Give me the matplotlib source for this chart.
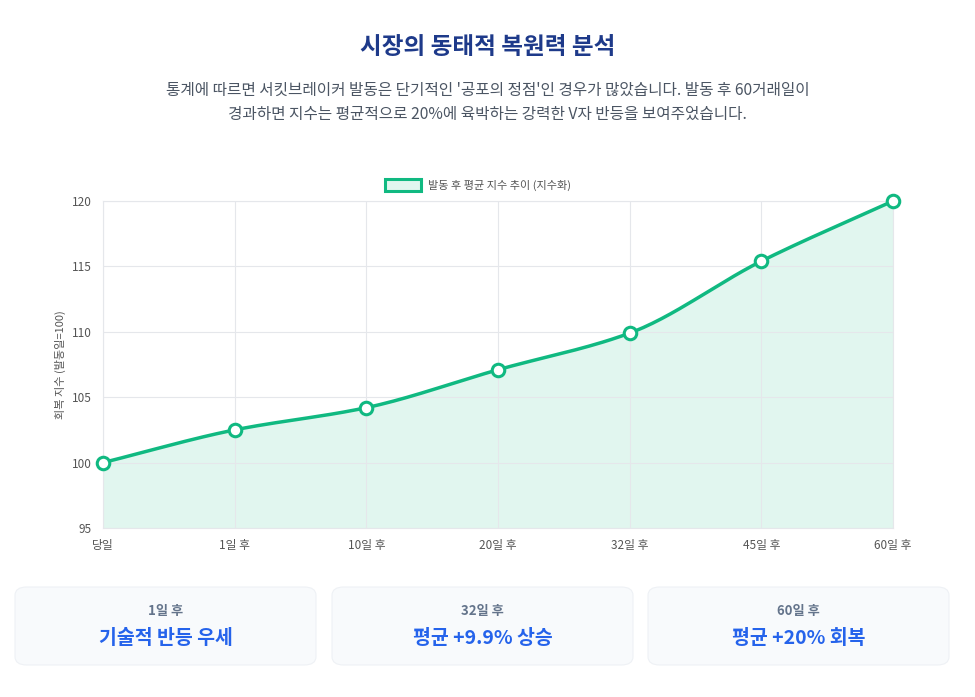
import numpy as np
import matplotlib
matplotlib.use("Agg")
import matplotlib.pyplot as plt
from matplotlib.patches import FancyBboxPatch, Rectangle

plt.rcParams['font.family'] = ['Noto Sans CJK KR', 'DejaVu Sans']

labels = ['당일', '1일 후', '10일 후', '20일 후', '32일 후', '45일 후', '60일 후']
values = [100, 102.5, 104.2, 107.1, 109.9, 115.4, 120]
card_titles = ['1일 후', '32일 후', '60일 후']
card_values = ['기술적 반등 우세', '평균 +9.9% 상승', '평균 +20% 회복']

green = '#10b981'


def monotone(x, y, n=30):
    # monotone cubic spline, similar to the smoothed line in the original
    x = np.asarray(x, float); y = np.asarray(y, float)
    h = np.diff(x); d = np.diff(y) / h
    m = np.zeros_like(y)
    m[0], m[-1] = d[0], d[-1]
    for i in range(1, len(y) - 1):
        if d[i - 1] * d[i] > 0:
            m[i] = 2 / (1 / d[i - 1] + 1 / d[i])
    xs, ys = [], []
    for i in range(len(h)):
        t = np.linspace(0, 1, n)
        h00 = 2*t**3 - 3*t**2 + 1; h10 = t**3 - 2*t**2 + t
        h01 = -2*t**3 + 3*t**2; h11 = t**3 - t**2
        xs.append(x[i] + t * h[i])
        ys.append(h00*y[i] + h10*h[i]*m[i] + h01*y[i+1] + h11*h[i]*m[i+1])
    return np.concatenate(xs), np.concatenate(ys)


fig = plt.figure(figsize=(9.75, 6.97), dpi=100)
fig.text(0.5, 1 - 47/697, '시장의 동태적 복원력 분석', ha='center', va='center',
         fontsize=17, fontweight='bold', color='#1e3a8a')
fig.text(0.5, 1 - 90/697, "통계에 따르면 서킷브레이커 발동은 단기적인 '공포의 정점'인 경우가 많았습니다. 발동 후 60거래일이",
         ha='center', va='center', fontsize=11.3, color='#4b5563')
fig.text(0.5, 1 - 114/697, '경과하면 지수는 평균적으로 20%에 육박하는 강력한 V자 반등을 보여주었습니다.',
         ha='center', va='center', fontsize=11.3, color='#4b5563')

ax = fig.add_axes([103/975, 1 - 528/697, 790/975, 327/697])
x = np.arange(len(values))
xs, ys = monotone(x, values)
ax.fill_between(xs, 95, ys, color=green, alpha=0.12, lw=0)
ax.plot(xs, ys, color=green, lw=2.5)
ax.plot(x, values, 'o', ms=9, mfc='white', mec=green, mew=2.2, zorder=5, clip_on=False)
ax.set_xlim(0, len(values) - 1)
ax.set_ylim(95, 120)
ax.set_yticks([95, 100, 105, 110, 115, 120])
ax.set_xticks(x)
ax.set_xticklabels(labels)
ax.grid(color='#e5e7eb', lw=0.8)
for s in ax.spines.values():
    s.set_color('#e5e7eb')
ax.tick_params(length=0, labelsize=8.5, colors='#555555', pad=8)
ax.set_ylabel('회복 지수 (발동일=100)', fontsize=8, color='#555555', labelpad=4)

# legend
fig.patches.append(Rectangle((385/975, 1 - 191/697), 36/975, 12/697, transform=fig.transFigure,
                             fc=green, alpha=0.12, ec='none'))
fig.patches.append(Rectangle((385/975, 1 - 191/697), 36/975, 12/697, transform=fig.transFigure,
                             fc='none', ec=green, lw=2.2))
fig.text(428/975, 1 - 185/697, '발동 후 평균 지수 추이 (지수화)', va='center', fontsize=8, color='#555555')

# cards
cards_x = [15, 332, 648]
for cx, t, v in zip(cards_x, card_titles, card_values):
    fig.patches.append(FancyBboxPatch((cx/975, 1 - 665/697), 301/975, 78/697,
                                      boxstyle='round,pad=0,rounding_size=0.012',
                                      transform=fig.transFigure, fc='#f8fafc', ec='#eef1f5', lw=0.8))
    mid = (cx + 150.5) / 975
    fig.text(mid, 1 - 611/697, t, ha='center', va='center', fontsize=9.5,
             fontweight='bold', color='#64748b')
    fig.text(mid, 1 - 638/697, v, ha='center', va='center', fontsize=14,
             fontweight='bold', color='#2563eb')

fig.savefig('out.png', dpi=100)
